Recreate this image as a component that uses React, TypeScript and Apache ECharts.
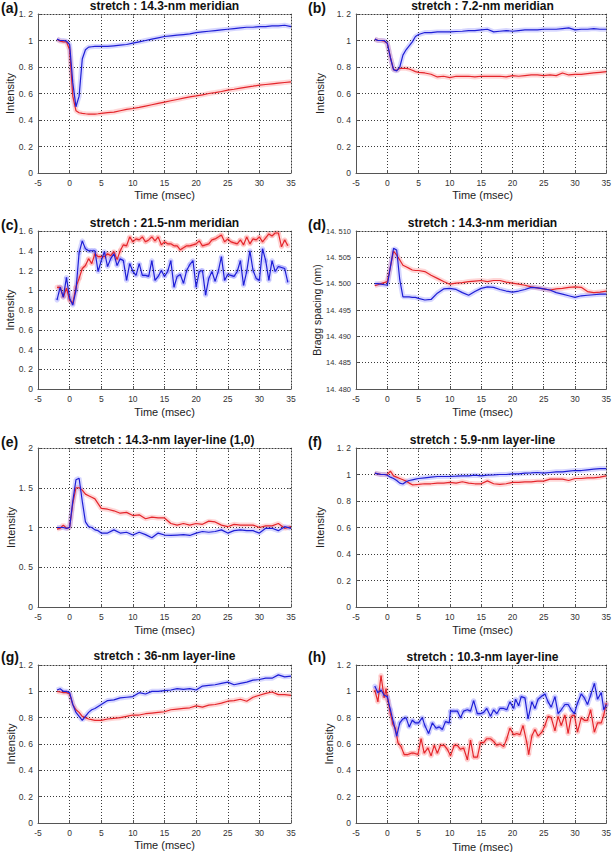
import React, { useEffect, useRef } from "react";
import * as echarts from "echarts";

// ---------- DATA ----------
const T_COARSE = [-2, -1.5, -1, -0.5, 0, 0.5, 1, 1.5, 2, 2.5, 3, 3.5, 4, 4.5, 5, 6, 7, 8, 9, 10, 11, 12, 13, 14, 15, 16, 17, 18, 19, 20, 21, 22, 23, 24, 25, 26, 27, 28, 29, 30, 31, 32, 33, 34, 35];
const T_HALF = [-2, -1.5, -1, -0.5, 0, 0.5, 1, 1.5, 2, 2.5, 3, 3.5, 4, 4.5, 5, 5.5, 6, 6.5, 7, 7.5, 8, 8.5, 9, 9.5, 10, 10.5, 11, 11.5, 12, 12.5, 13, 13.5, 14, 14.5, 15, 15.5, 16, 16.5, 17, 17.5, 18, 18.5, 19, 19.5, 20, 20.5, 21, 21.5, 22, 22.5, 23, 23.5, 24, 24.5, 25, 25.5, 26, 26.5, 27, 27.5, 28, 28.5, 29, 29.5, 30, 30.5, 31, 31.5, 32, 32.5, 33, 33.5, 34, 34.5];

const A_BLUE = [1.01, 1.0, 1.0, 0.995, 0.97, 0.68, 0.5, 0.58, 0.86, 0.93, 0.95, 0.953, 0.955, 0.955, 0.955, 0.955, 0.96, 0.965, 0.97, 0.98, 0.99, 1.0, 1.01, 1.02, 1.03, 1.035, 1.04, 1.045, 1.05, 1.06, 1.065, 1.07, 1.075, 1.08, 1.085, 1.09, 1.095, 1.1, 1.1, 1.105, 1.105, 1.11, 1.11, 1.115, 1.105];
const A_RED = [1.01, 0.995, 0.99, 0.99, 0.93, 0.58, 0.47, 0.455, 0.45, 0.447, 0.445, 0.445, 0.445, 0.447, 0.45, 0.455, 0.46, 0.47, 0.48, 0.487, 0.495, 0.505, 0.515, 0.525, 0.535, 0.545, 0.555, 0.565, 0.575, 0.582, 0.59, 0.6, 0.607, 0.615, 0.625, 0.632, 0.64, 0.648, 0.655, 0.663, 0.668, 0.673, 0.678, 0.683, 0.688];

const B_BLUE = [1.01, 1.0, 1.0, 1.0, 0.98, 0.87, 0.78, 0.77, 0.8, 0.89, 0.93, 0.96, 0.99, 1.03, 1.045, 1.06, 1.06, 1.065, 1.065, 1.065, 1.068, 1.07, 1.075, 1.075, 1.08, 1.085, 1.065, 1.07, 1.075, 1.07, 1.075, 1.08, 1.08, 1.08, 1.085, 1.085, 1.085, 1.09, 1.095, 1.08, 1.085, 1.085, 1.09, 1.085, 1.085];
const B_RED = [1.01, 1.0, 1.0, 0.995, 0.98, 0.87, 0.78, 0.775, 0.79, 0.79, 0.79, 0.785, 0.775, 0.765, 0.76, 0.755, 0.745, 0.725, 0.73, 0.72, 0.73, 0.73, 0.73, 0.725, 0.73, 0.73, 0.73, 0.73, 0.725, 0.735, 0.73, 0.735, 0.74, 0.74, 0.735, 0.74, 0.735, 0.755, 0.74, 0.745, 0.745, 0.75, 0.755, 0.76, 0.765];

const C_BLUE = [0.9, 1.03, 0.93, 1.13, 0.92, 0.85, 1.0, 1.38, 1.5, 1.42, 1.4, 1.4, 1.4, 1.19, 1.3, 1.39, 1.24, 1.32, 1.37, 1.25, 1.32, 1.3, 1.1, 1.27, 1.19, 1.15, 1.27, 1.15, 1.15, 1.14, 1.3, 1.1, 1.14, 1.2, 1.14, 1.19, 1.3, 1.03, 1.14, 1.16, 1.07, 1.2, 1.26, 1.3, 1.03, 1.19, 1.2, 0.95, 1.12, 1.19, 1.09, 1.19, 1.34, 1.1, 1.16, 1.15, 1.14, 1.19, 1.3, 1.05, 1.19, 1.4, 1.2, 1.12, 1.1, 1.42, 1.3, 1.1, 1.3, 1.19, 1.24, 1.23, 1.22, 1.08];
const C_RED = [1.03, 1.03, 0.93, 1.02, 0.9, 0.87, 1.03, 1.12, 1.22, 1.25, 1.32, 1.27, 1.37, 1.34, 1.34, 1.34, 1.37, 1.35, 1.39, 1.31, 1.4, 1.46, 1.45, 1.54, 1.49, 1.52, 1.51, 1.54, 1.49, 1.51, 1.54, 1.5, 1.54, 1.46, 1.49, 1.47, 1.47, 1.45, 1.45, 1.41, 1.43, 1.45, 1.45, 1.46, 1.47, 1.5, 1.45, 1.46, 1.47, 1.51, 1.52, 1.54, 1.56, 1.49, 1.52, 1.49, 1.48, 1.47, 1.51, 1.46, 1.54, 1.47, 1.52, 1.51, 1.54, 1.49, 1.53, 1.57, 1.55, 1.58, 1.58, 1.44, 1.51, 1.45];

const D_BLUE = [14.5, 14.5, 14.4999, 14.4998, 14.4997, 14.5032, 14.5067, 14.5064, 14.5007, 14.4975, 14.4975, 14.4975, 14.4974, 14.4974, 14.4972, 14.4969, 14.497, 14.4982, 14.499, 14.4991, 14.4989, 14.4983, 14.4978, 14.4985, 14.4991, 14.4994, 14.4993, 14.4989, 14.4986, 14.4984, 14.4986, 14.4989, 14.4993, 14.4992, 14.499, 14.4988, 14.4983, 14.498, 14.4977, 14.4974, 14.4977, 14.4978, 14.4979, 14.498, 14.498];
const D_RED = [14.4996, 14.4998, 14.5, 14.5002, 14.5004, 14.5032, 14.5062, 14.5054, 14.5045, 14.5035, 14.5032, 14.5029, 14.5026, 14.5025, 14.5025, 14.5023, 14.5016, 14.501, 14.5004, 14.4999, 14.5001, 14.5002, 14.5004, 14.5005, 14.5006, 14.5004, 14.5006, 14.5006, 14.5003, 14.5001, 14.4999, 14.4997, 14.4994, 14.4992, 14.499, 14.4988, 14.499, 14.4991, 14.4993, 14.4994, 14.4993, 14.4985, 14.4983, 14.4984, 14.4986];

const E_BLUE = [1.0, 1.0, 1.0, 0.99, 1.0, 1.33, 1.6, 1.62, 1.33, 1.07, 1.01, 1.0, 0.97, 0.96, 0.93, 0.93, 0.97, 0.93, 0.94, 0.905, 0.94, 0.91, 0.87, 0.93, 0.905, 0.9, 0.905, 0.91, 0.9, 0.93, 0.95, 0.94, 0.95, 0.97, 0.93, 0.96, 0.97, 0.96, 0.96, 0.93, 0.99, 0.99, 0.96, 1.01, 0.99];
const E_RED = [0.98, 0.99, 1.03, 0.99, 1.0, 1.3, 1.5, 1.5, 1.47, 1.42, 1.4, 1.38, 1.36, 1.3, 1.24, 1.23, 1.21, 1.18, 1.19, 1.15, 1.16, 1.11, 1.13, 1.12, 1.12, 1.05, 1.03, 1.05, 1.03, 1.05, 1.04, 1.08, 1.07, 1.03, 1.01, 1.04, 1.03, 1.03, 1.03, 1.0, 1.02, 1.02, 1.05, 0.99, 1.01];

const F_BLUE = [1.01, 1.005, 1.0, 1.0, 0.995, 0.98, 0.97, 0.955, 0.935, 0.928, 0.945, 0.955, 0.96, 0.965, 0.97, 0.975, 0.98, 0.985, 0.985, 0.985, 0.987, 0.99, 0.99, 0.995, 0.99, 0.995, 0.997, 1.0, 1.0, 1.005, 1.005, 1.01, 1.012, 1.015, 1.01, 1.015, 1.02, 1.02, 1.025, 1.03, 1.03, 1.035, 1.04, 1.045, 1.045];
const F_RED = [1.01, 1.005, 1.0, 1.0, 1.0, 1.025, 0.99, 0.98, 0.97, 0.96, 0.95, 0.935, 0.922, 0.923, 0.925, 0.93, 0.93, 0.935, 0.935, 0.94, 0.935, 0.945, 0.935, 0.93, 0.93, 0.952, 0.93, 0.925, 0.93, 0.94, 0.94, 0.945, 0.945, 0.95, 0.95, 0.965, 0.965, 0.965, 0.955, 0.97, 0.97, 0.975, 0.975, 0.98, 0.99];

const G_BLUE = [1.01, 1.02, 1.0, 1.0, 0.99, 0.9, 0.84, 0.81, 0.78, 0.81, 0.84, 0.86, 0.87, 0.885, 0.9, 0.93, 0.935, 0.95, 0.955, 0.96, 0.99, 0.98, 1.0, 1.0, 1.005, 1.01, 1.02, 1.015, 1.02, 1.01, 1.04, 1.045, 1.05, 1.06, 1.07, 1.05, 1.06, 1.07, 1.085, 1.09, 1.1, 1.1, 1.125, 1.11, 1.115];
const G_RED = [1.0, 0.995, 0.99, 0.99, 0.98, 0.9, 0.86, 0.84, 0.81, 0.8, 0.79, 0.785, 0.78, 0.78, 0.78, 0.79, 0.795, 0.8, 0.81, 0.82, 0.82, 0.83, 0.835, 0.84, 0.845, 0.86, 0.865, 0.87, 0.875, 0.89, 0.88, 0.895, 0.9, 0.91, 0.925, 0.93, 0.94, 0.925, 0.955, 0.97, 0.985, 0.995, 0.975, 0.975, 0.97];

const H_BLUE_T = [-2, -1.5, -1, -0.5, 0, 0.5, 1, 1.5, 2, 2.5, 3, 3.5, 4, 4.5, 5, 5.6, 6, 6.6, 7.2, 7.8, 8.3, 8.8, 9.3, 9.9, 10.1, 10.6, 11.2, 11.7, 12.2, 12.8, 13.3, 13.8, 14.4, 14.9, 15.4, 15.9, 16.5, 17, 17.5, 18, 18.6, 19.1, 19.6, 20.2, 20.5, 21, 21.4, 22, 22.5, 23.1, 23.6, 24.1, 24.6, 25.2, 25.7, 26.2, 26.8, 27.3, 27.8, 28.4, 28.9, 29.4, 29.9, 30.4, 31, 31.5, 32, 32.5, 33.1, 33.6, 34.2, 34.6, 35];
const H_BLUE = [1.04, 0.99, 1.01, 0.97, 0.96, 0.86, 0.76, 0.66, 0.76, 0.79, 0.8, 0.73, 0.78, 0.76, 0.76, 0.8, 0.74, 0.68, 0.76, 0.72, 0.73, 0.71, 0.77, 0.76, 0.85, 0.85, 0.85, 0.8, 0.85, 0.86, 0.85, 0.93, 0.83, 0.83, 0.84, 0.87, 0.81, 0.86, 0.83, 0.87, 0.87, 0.86, 0.92, 0.87, 0.94, 0.89, 0.96, 0.95, 0.79, 0.92, 0.87, 0.94, 0.96, 0.98, 0.92, 0.88, 0.96, 0.83, 0.86, 0.9, 0.9, 0.86, 0.83, 0.91, 0.98, 0.95, 0.9, 0.97, 1.06, 0.94, 0.99, 0.86, 0.9];
const H_RED_T = [-2, -1.5, -1, -0.5, -0.2, 0.1, 0.5, 0.9, 1.3, 1.7, 2.2, 2.7, 3.3, 3.8, 4.3, 4.9, 5.4, 5.9, 6.5, 7, 7.5, 8, 8.5, 9.1, 9.6, 10.1, 10.7, 11.2, 11.7, 12.2, 12.8, 13.3, 13.8, 14.4, 14.9, 15.4, 15.9, 16.5, 17, 17.5, 18, 18.6, 19.1, 19.6, 20.2, 20.7, 21.2, 21.7, 22.3, 22.6, 23.1, 23.6, 24.1, 24.7, 25.2, 25.7, 26.2, 26.8, 27.3, 27.8, 28.4, 28.9, 29.4, 29.9, 30.4, 31, 31.5, 32, 32.5, 33.1, 33.6, 34.2, 34.6, 35];
const H_RED = [1.01, 0.92, 1.12, 0.95, 1.02, 0.93, 0.83, 0.75, 0.72, 0.61, 0.58, 0.52, 0.52, 0.53, 0.53, 0.52, 0.64, 0.53, 0.57, 0.51, 0.59, 0.53, 0.59, 0.59, 0.56, 0.51, 0.59, 0.59, 0.56, 0.57, 0.48, 0.63, 0.5, 0.5, 0.61, 0.61, 0.64, 0.64, 0.62, 0.59, 0.6, 0.58, 0.64, 0.72, 0.67, 0.68, 0.67, 0.74, 0.61, 0.52, 0.66, 0.71, 0.66, 0.69, 0.74, 0.81, 0.8, 0.7, 0.81, 0.74, 0.82, 0.68, 0.81, 0.82, 0.69, 0.8, 0.78, 0.78, 0.86, 0.69, 0.76, 0.76, 0.82, 0.91];

const X_MIN = -5;
const X_MAX = 35;
const X_INTERVAL = 5;

// ---------- LAYOUT / STYLE ----------
const FONT = "'Liberation Sans', Arial, Helvetica, sans-serif";
const BLUE = "#1f1fd6";
const RED = "#e4262c";
const BLUE_HALO = "rgba(110,110,255,0.28)";
const RED_HALO = "rgba(255,110,110,0.28)";

type Panel = {
  label: string; title: string; yName: string;
  ymin: number; ymax: number; yint: number; dec: number; alwaysDec?: boolean;
  tb: number[]; blue: number[]; tr: number[]; red: number[];
  col: number; top: number; h: number; tickFont: number;
  labelY: number; titleY: number; xNameY: number; yNameX: number; dots?: boolean;
};

const PANELS: Panel[] = [
  { label: "(a)", title: "stretch : 14.3-nm meridian", yName: "Intensity", ymin: 0, ymax: 1.2, yint: 0.2, dec: 1, tb: T_COARSE, blue: A_BLUE, tr: T_COARSE, red: A_RED, col: 0, top: 14, h: 159, tickFont: 8.5, labelY: 8, titleY: 6, xNameY: 195, yNameX: 10 },
  { label: "(b)", title: "stretch : 7.2-nm meridian", yName: "Intensity", ymin: 0, ymax: 1.2, yint: 0.2, dec: 1, tb: T_COARSE, blue: B_BLUE, tr: T_COARSE, red: B_RED, col: 1, top: 14, h: 159, tickFont: 8.5, labelY: 8, titleY: 6, xNameY: 195, yNameX: 320 },
  { label: "(c)", title: "stretch : 21.5-nm meridian", yName: "Intensity", ymin: 0, ymax: 1.6, yint: 0.2, dec: 1, tb: T_HALF, blue: C_BLUE, tr: T_HALF, red: C_RED, col: 0, top: 231, h: 158, tickFont: 8.5, labelY: 225, titleY: 223, xNameY: 412, yNameX: 10, dots: true },
  { label: "(d)", title: "stretch : 14.3-nm meridian", yName: "Bragg spacing (nm)", ymin: 14.48, ymax: 14.51, yint: 0.005, dec: 3, alwaysDec: true, tb: T_COARSE, blue: D_BLUE, tr: T_COARSE, red: D_RED, col: 1, top: 231, h: 158, tickFont: 7.5, labelY: 225, titleY: 223, xNameY: 412, yNameX: 317 },
  { label: "(e)", title: "stretch : 14.3-nm layer-line (1,0)", yName: "Intensity", ymin: 0, ymax: 2, yint: 0.5, dec: 1, tb: T_COARSE, blue: E_BLUE, tr: T_COARSE, red: E_RED, col: 0, top: 448, h: 159, tickFont: 8.5, labelY: 442, titleY: 440, xNameY: 630, yNameX: 11 },
  { label: "(f)", title: "stretch : 5.9-nm layer-line", yName: "Intensity", ymin: 0, ymax: 1.2, yint: 0.2, dec: 1, tb: T_COARSE, blue: F_BLUE, tr: T_COARSE, red: F_RED, col: 1, top: 448, h: 159, tickFont: 8.5, labelY: 442, titleY: 440, xNameY: 630, yNameX: 320 },
  { label: "(g)", title: "stretch : 36-nm layer-line", yName: "Intensity", ymin: 0, ymax: 1.2, yint: 0.2, dec: 1, tb: T_COARSE, blue: G_BLUE, tr: T_COARSE, red: G_RED, col: 0, top: 665, h: 158, tickFont: 8.5, labelY: 657, titleY: 656, xNameY: 845, yNameX: 11 },
  { label: "(h)", title: "stretch : 10.3-nm layer-line", yName: "Intensity", ymin: 0, ymax: 1.2, yint: 0.2, dec: 1, tb: H_BLUE_T, blue: H_BLUE, tr: H_RED_T, red: H_RED, col: 1, top: 665, h: 158, tickFont: 8.5, labelY: 657, titleY: 657, xNameY: 847, yNameX: 329, dots: true },
];

const GRID_LEFT = [38, 356];
const GRID_W = 253;

function tickFormatter(dec: number, always?: boolean) {
  return (v: number) => {
    if (!always && Math.abs(v - Math.round(v)) < 1e-9) return String(Math.round(v));
    return v.toFixed(dec).replace(".", ". ");
  };
}

function buildOption() {
  const grid: any[] = [];
  const xAxis: any[] = [];
  const yAxis: any[] = [];
  const series: any[] = [];
  const graphic: any[] = [];
  const split = { show: true, lineStyle: { type: [1, 2], color: "#3a3a3a", width: 1 } };
  const mainLine = { show: true, onZero: false, lineStyle: { color: "#555", width: 1 } };
  const farLine = { show: true, onZero: false, lineStyle: { color: "#a0a0a0", width: 1 } };
  const tick = (c: string) => ({ show: true, inside: true, length: 3, lineStyle: { color: c, width: 1 } });

  PANELS.forEach((p, i) => {
    const left = GRID_LEFT[p.col];
    grid.push({ left, top: p.top, width: GRID_W, height: p.h, show: false });
    const xb = { type: "value", gridIndex: i, min: X_MIN, max: X_MAX, interval: X_INTERVAL };
    xAxis.push({ ...xb, position: "bottom", axisLine: mainLine, axisTick: tick("#555"),
      axisLabel: { fontSize: 8.5, color: "#333", margin: 5, fontFamily: FONT }, splitLine: split, z: 3 });
    xAxis.push({ ...xb, position: "top", axisLine: farLine, axisTick: tick("#999"), axisLabel: { show: false }, splitLine: { show: false } });
    const yb = { type: "value", gridIndex: i, min: p.ymin, max: p.ymax, interval: p.yint };
    yAxis.push({ ...yb, position: "left", axisLine: mainLine, axisTick: tick("#555"),
      axisLabel: { fontSize: p.tickFont, color: "#333", margin: 5, fontFamily: FONT, formatter: tickFormatter(p.dec, p.alwaysDec) }, splitLine: split, z: 3 });
    yAxis.push({ ...yb, position: "right", axisLine: farLine, axisTick: tick("#999"), axisLabel: { show: false }, splitLine: { show: false } });

    const xi = 2 * i, yi = 2 * i;
    const bd = p.tb.map((t, j) => [t, p.blue[j]]);
    const rd = p.tr.map((t, j) => [t, p.red[j]]);
    const halo = (data: any[], color: string) => ({
      type: "line", xAxisIndex: xi, yAxisIndex: yi, data, silent: true,
      showSymbol: !!p.dots, symbol: "circle", symbolSize: 5, itemStyle: { color },
      lineStyle: { color, width: 5 }, z: 2,
    });
    const line = (data: any[], color: string, z: number) => ({
      type: "line", xAxisIndex: xi, yAxisIndex: yi, data, silent: true,
      showSymbol: false, lineStyle: { color, width: 1.2 }, z,
    });
    series.push(halo(rd, RED_HALO), halo(bd, BLUE_HALO), line(rd, RED, 3), line(bd, BLUE, 4));

    const cx = left + GRID_W / 2;
    graphic.push(
      { type: "text", x: p.col === 0 ? 1 : 308, y: p.labelY, style: { text: p.label, font: `bold 14px ${FONT}`, fill: "#111", align: "left", verticalAlign: "middle", textAlign: "left", textVerticalAlign: "middle" } },
      { type: "text", x: cx, y: p.titleY, style: { text: p.title, font: `bold 12px ${FONT}`, fill: "#111", align: "center", verticalAlign: "middle", textAlign: "center", textVerticalAlign: "middle" } },
      { type: "text", x: cx, y: p.xNameY, style: { text: "Time (msec)", font: `11px ${FONT}`, fill: "#222", align: "center", verticalAlign: "middle", textAlign: "center", textVerticalAlign: "middle" } },
      { type: "text", x: p.yNameX, y: p.top + p.h / 2, rotation: Math.PI / 2, style: { text: p.yName, font: `${p.label === "(d)" ? 10.5 : 11}px ${FONT}`, fill: "#222", align: "center", verticalAlign: "middle", textAlign: "center", textVerticalAlign: "middle" } },
    );
  });

  return { animation: false, backgroundColor: "#fff", grid, xAxis, yAxis, series, graphic };
}

export default function App() {
  const ref = useRef<HTMLDivElement>(null);
  useEffect(() => {
    document.body.style.margin = "0";
    if (!ref.current) return;
    const chart = echarts.init(ref.current, undefined, { renderer: "svg" });
    chart.setOption(buildOption() as any);
    return () => chart.dispose();
  }, []);
  return <div ref={ref} style={{ width: 614, height: 852 }} />;
}
